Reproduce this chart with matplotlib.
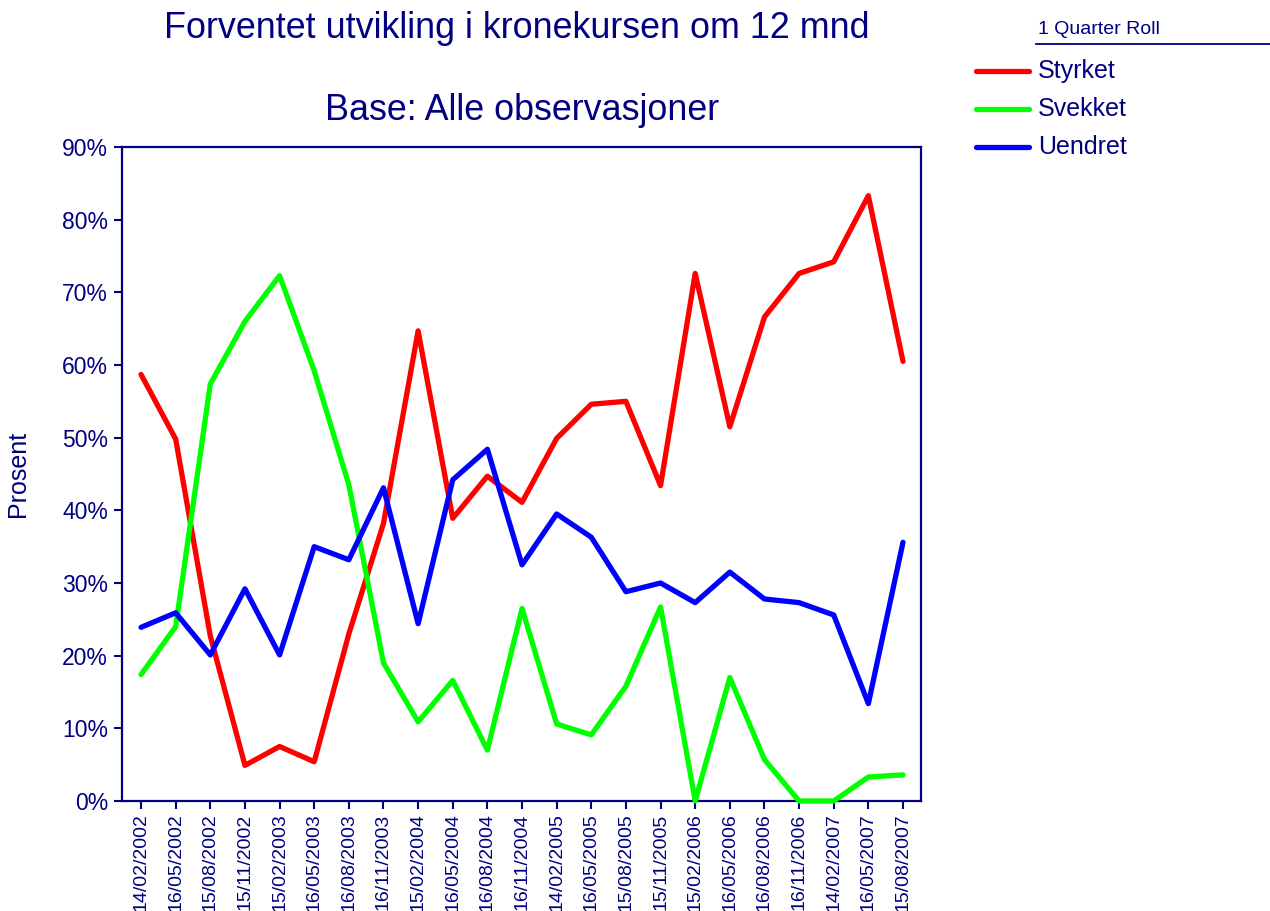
import matplotlib
matplotlib.use("Agg")
import matplotlib.pyplot as plt
from matplotlib.lines import Line2D
from matplotlib.ticker import FuncFormatter, MultipleLocator

plt.rcParams['font.family'] = ['Liberation Sans', 'DejaVu Sans']

dates = ["14/02/2002", "16/05/2002", "15/08/2002", "15/11/2002", "15/02/2003",
         "16/05/2003", "16/08/2003", "16/11/2003", "15/02/2004", "16/05/2004",
         "16/08/2004", "16/11/2004", "14/02/2005", "16/05/2005", "15/08/2005",
         "15/11/2005", "15/02/2006", "16/05/2006", "16/08/2006", "16/11/2006",
         "14/02/2007", "16/05/2007", "15/08/2007"]

styrket = [58.7, 49.8, 22.7, 4.9, 7.5, 5.4, 23.0, 38.2, 64.7, 38.9,
           44.7, 41.1, 49.9, 54.6, 55.0, 43.4, 72.6, 51.5, 66.6, 72.6,
           74.2, 83.3, 60.5]
svekket = [17.4, 24.0, 57.4, 66.0, 72.3, 59.2, 43.5, 19.0, 10.9, 16.6,
           7.0, 26.5, 10.6, 9.1, 15.8, 26.7, 0.0, 17.0, 5.7, 0.0,
           0.0, 3.3, 3.6]
uendret = [23.9, 25.9, 20.1, 29.2, 20.1, 35.0, 33.2, 43.1, 24.4, 44.2,
           48.4, 32.5, 39.5, 36.3, 28.8, 30.0, 27.3, 31.5, 27.8, 27.3,
           25.6, 13.4, 35.6]

series_names = ["Styrket", "Svekket", "Uendret"]
series_values = [styrket, svekket, uendret]
series_colors = ["#FF0000", "#00FF00", "#0000FF"]

title_line1 = "Forventet utvikling i kronekursen om 12 mnd"
title_line2 = "Base: Alle observasjoner"
legend_title = "1 Quarter Roll"
y_label = "Prosent"

NAVY = "#000080"
W, H = 1270, 911

fig = plt.figure(figsize=(W / 100, H / 100), dpi=100)
ax = fig.add_axes([122 / W, 1 - 801 / H, (921 - 122) / W, (801 - 147) / H])

x = list(range(len(dates)))
for name, vals, col in zip(series_names, series_values, series_colors):
    ax.plot(x, [v / 100 for v in vals], color=col, linewidth=3.8,
            solid_joinstyle='round', solid_capstyle='round', label=name,
            clip_on=False, zorder=3)

ax.set_xlim(-0.55, len(dates) - 1 + 0.52)
ax.set_ylim(0, 0.9)
ax.yaxis.set_major_locator(MultipleLocator(0.1))
ax.yaxis.set_major_formatter(FuncFormatter(lambda v, p: f"{v * 100:.0f}%"))
ax.set_xticks(x)
ax.set_xticklabels(dates, rotation=90, fontsize=14, color=NAVY)
ax.tick_params(axis='y', labelsize=16.5, labelcolor=NAVY, color=NAVY,
               length=6, width=1.5, direction='out', pad=4)
ax.tick_params(axis='x', color=NAVY, length=6, width=1.5, direction='out', pad=3)
for s in ax.spines.values():
    s.set_color(NAVY)
    s.set_linewidth(1.6)

# Titles
fig.text(517 / W, 1 - 38 / H, title_line1, ha='center', va='baseline',
         fontsize=25.8, color=NAVY)
fig.text(522 / W, 1 - 120 / H, title_line2, ha='center', va='baseline',
         fontsize=25.8, color=NAVY)
fig.text(18 / W, 1 - 474 / H, y_label, rotation=90, ha='center', va='center',
         fontsize=18, color=NAVY)

# Legend (manual, figure coordinates)
fig.text(1038 / W, 1 - 34 / H, legend_title, ha='left', va='baseline',
         fontsize=14, color=NAVY)
fig.add_artist(Line2D([1036 / W, 1270 / W], [1 - 44 / H, 1 - 44 / H],
                      color=NAVY, linewidth=1.3, transform=fig.transFigure))
for i, (name, col) in enumerate(zip(series_names, series_colors)):
    yy = 1 - (71 + 38 * i) / H
    fig.add_artist(Line2D([976 / W, 1029 / W], [yy, yy], color=col,
                          linewidth=3.8, solid_capstyle='round',
                          transform=fig.transFigure))
    fig.text(1038 / W, yy, name, ha='left', va='center', fontsize=18,
             color=NAVY)

fig.savefig("out.png", dpi=100)
